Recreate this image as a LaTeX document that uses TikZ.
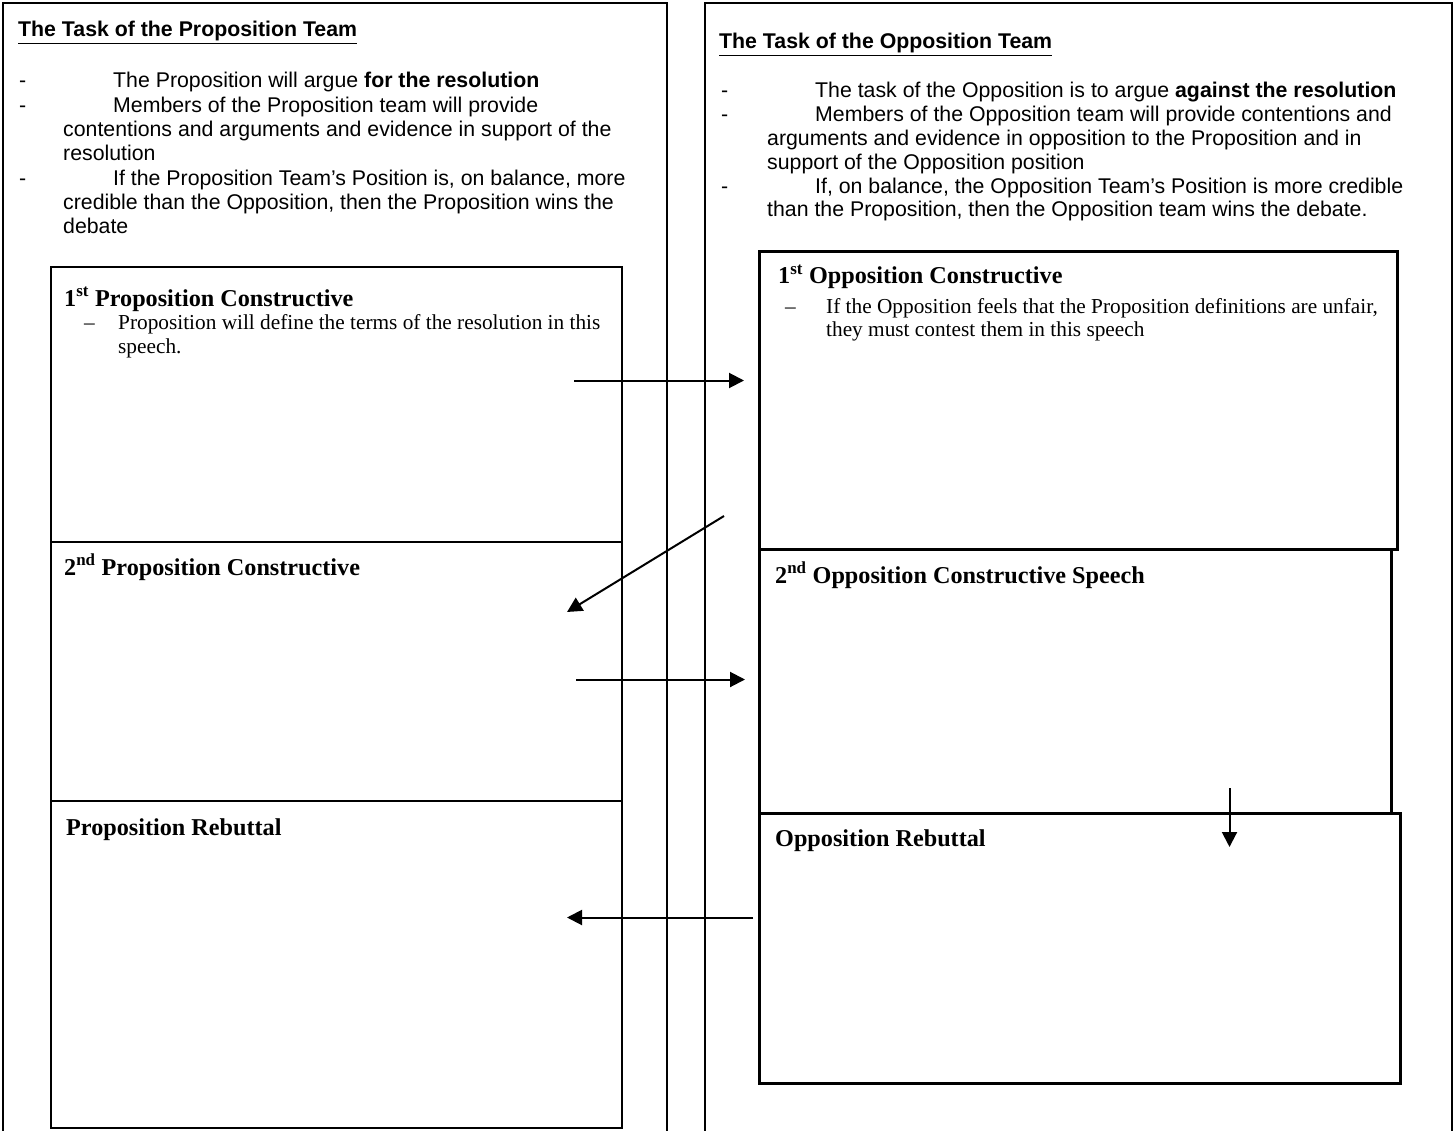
\documentclass[tikz,border=0pt]{standalone}
\usepackage{fontspec}
\setmainfont{Liberation Serif}
\newfontfamily\arialf{Liberation Sans}
\usetikzlibrary{arrows.meta}
\begin{document}
\begin{tikzpicture}[x=1pt,y=-1pt,
  frame/.style={line width=2pt},
  pbox/.style={draw,line width=2pt,anchor=north west,inner sep=0pt,outer sep=0pt},
  obox/.style={draw,line width=3pt,anchor=north west,inner sep=0pt,outer sep=0pt},
  sans/.style={font=\arialf\fontsize{21.3}{24.3}\selectfont,anchor=base west,inner sep=0pt},
  serif/.style={font=\fontsize{21.3}{24}\selectfont,anchor=base west,inner sep=0pt},
  shead/.style={font=\bfseries\fontsize{24.2}{28}\selectfont,anchor=base west,inner sep=0pt},
  arr/.style={line width=2pt,-{Triangle[length=15pt,width=15pt]}}]
\useasboundingbox (0,0) rectangle (1455,1131);
% outer frames
\draw[frame] (3,1131) -- (3,3) -- (667,3) -- (667,1131);
\draw[frame] (705,1131) -- (705,3) -- (1452,3) -- (1452,1131);
% proposition boxes
\node[pbox,minimum width=571pt,minimum height=275pt] (p1) at (51,267) {};
\node[pbox,minimum width=571pt,minimum height=259pt] (p2) at (51,542) {};
\node[pbox,minimum width=571pt,minimum height=327pt] (p3) at (51,801) {};
% opposition boxes
\node[obox,minimum width=638pt,minimum height=297pt] (o1) at (759,252) {};
\node[obox,minimum width=632pt,minimum height=264pt] (o2) at (759,549) {};
\node[obox,minimum width=641pt,minimum height=270pt] (o3) at (759,813) {};
% left column text
\node[sans] (lh) at (18,37) {\bfseries\underline{The Task of the Proposition Team}};
\node[sans] (ld1) at (19,88) {-};
\node[sans] (l1) at (113,88) {The Proposition will argue \textbf{for the resolution}};
\node[sans] (ld2) at (19,112.3) {-};
\node[sans] (l2) at (113,112.3) {Members of the Proposition team will provide};
\node[sans] (l3) at (63,136.6) {contentions and arguments and evidence in support of the};
\node[sans] (l4) at (63,160.9) {resolution};
\node[sans] (ld3) at (19,185.2) {-};
\node[sans] (l5) at (113,185.2) {If the Proposition Team’s Position is, on balance, more};
\node[sans] (l6) at (63,209.5) {credible than the Opposition, then the Proposition wins the};
\node[sans] (l7) at (63,233.8) {debate};
% right column text
\node[sans] (rh) at (719,49) {\bfseries\underline{The Task of the Opposition Team}};
\node[sans] (rd1) at (721,98) {-};
\node[sans] (r1) at (815,98) {The task of the Opposition is to argue \textbf{against the resolution}};
\node[sans] (rd2) at (721,121.8) {-};
\node[sans] (r2) at (815,121.8) {Members of the Opposition team will provide contentions and};
\node[sans] (r3) at (767,145.6) {arguments and evidence in opposition to the Proposition and in};
\node[sans] (r4) at (767,169.4) {support of the Opposition position};
\node[sans] (rd3) at (721,193.2) {-};
\node[sans] (r5) at (815,193.2) {If, on balance, the Opposition Team’s Position is more credible};
\node[sans] (r6) at (767,217) {than the Proposition, then the Opposition team wins the debate.};
% box headings and text
\node[shead] (p1h) at (64,306) {1\textsuperscript{st} Proposition Constructive};
\node[serif] (p1d) at (84,329) {–};
\node[serif] (p1a) at (118,329) {Proposition will define the terms of the resolution in this};
\node[serif] (p1b) at (118,353) {speech.};
\node[shead] (p2h) at (64,575) {2\textsuperscript{nd} Proposition Constructive};
\node[shead] (p3h) at (66,835) {Proposition Rebuttal};
\node[shead] (o1h) at (778,284) {1\textsuperscript{st} Opposition Constructive};
\node[serif] (o1d) at (785,313) {–};
\node[serif] (o1a) at (826,313) {If the Opposition feels that the Proposition definitions are unfair,};
\node[serif] (o1b) at (826,336) {they must contest them in this speech};
\node[shead] (o2h) at (775,583) {2\textsuperscript{nd} Opposition Constructive Speech};
\node[shead] (o3h) at (775,846) {Opposition Rebuttal};
% arrows
\coordinate (a1s) at (574,380.5);
\coordinate (a1e) at (744,380.5);
\coordinate (a2s) at (724,516);
\coordinate (a2e) at (567,612);
\coordinate (a3s) at (576,679.5);
\coordinate (a3e) at (745,679.5);
\coordinate (a4s) at (1229.5,788);
\coordinate (a4e) at (1229.5,847);
\coordinate (a5s) at (753,917.5);
\coordinate (a5e) at (567,917.5);
\draw[arr] (a1s) -- (a1e);
\draw[arr] (a2s) -- (a2e);
\draw[arr] (a3s) -- (a3e);
\draw[arr] (a4s) -- (a4e);
\draw[arr] (a5s) -- (a5e);
\end{tikzpicture}
\end{document}
